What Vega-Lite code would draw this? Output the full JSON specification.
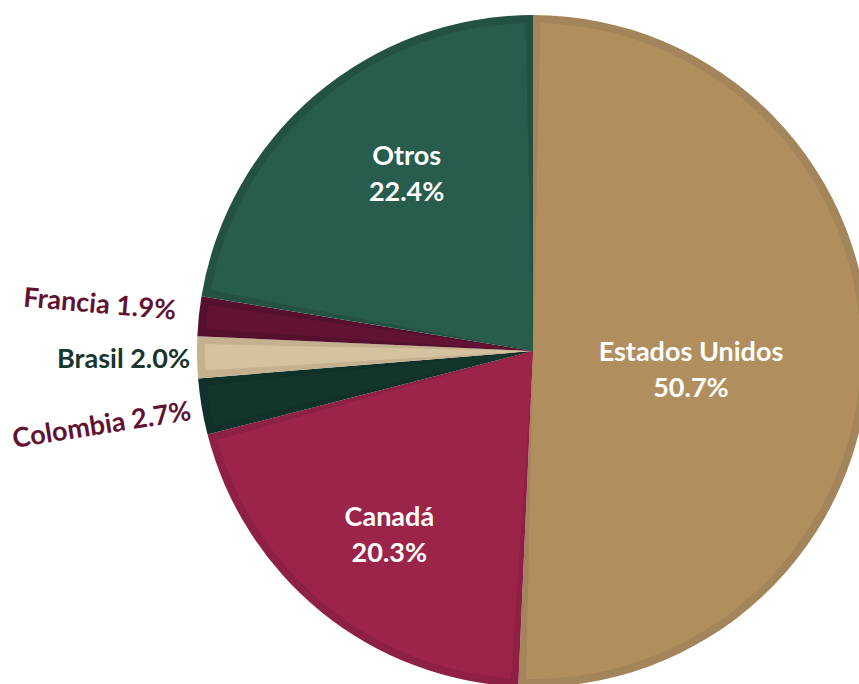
{
  "$schema": "https://vega.github.io/schema/vega-lite/v6.json",
  "width": 859,
  "height": 684,
  "autosize": {"type": "none"},
  "padding": 0,
  "background": "white",
  "config": {"view": {"stroke": null}},
  "data": {
    "values": [
      {"pais": "Estados Unidos", "pct": 50.7, "orden": 1},
      {"pais": "Canadá", "pct": 20.3, "orden": 2},
      {"pais": "Colombia", "pct": 2.7, "orden": 3},
      {"pais": "Brasil", "pct": 2.0, "orden": 4},
      {"pais": "Francia", "pct": 1.9, "orden": 5},
      {"pais": "Otros", "pct": 22.4, "orden": 6}
    ]
  },
  "transform": [
    {"calculate": "datum.pais + '\\n' + format(datum.pct, '.1f') + '%'", "as": "dentro"},
    {"calculate": "datum.pais + ' ' + format(datum.pct, '.1f') + '%'", "as": "fuera"}
  ],
  "encoding": {
    "theta": {"field": "pct", "type": "quantitative", "stack": true},
    "order": {"field": "orden", "type": "quantitative"}
  },
  "layer": [
    {
      "mark": {"type": "arc", "outerRadius": 336, "xOffset": 103.5, "yOffset": 9},
      "encoding": {
        "color": {
          "field": "pais", "type": "nominal", "legend": null,
          "scale": {
            "domain": ["Estados Unidos", "Canadá", "Colombia", "Brasil", "Francia", "Otros"],
            "range": ["#A4845A", "#8E2044", "#10302A", "#C5B18E", "#55102D", "#235245"]
          }
        }
      }
    },
    {
      "mark": {"type": "arc", "outerRadius": 328, "padAngle": 0.046, "xOffset": 103.5, "yOffset": 9},
      "encoding": {
        "color": {
          "field": "pais", "type": "nominal", "legend": null,
          "scale": {
            "domain": ["Estados Unidos", "Canadá", "Colombia", "Brasil", "Francia", "Otros"],
            "range": ["#B18E5E", "#9D2449", "#14352C", "#D5C3A0", "#621233", "#285C4D"]
          }
        }
      }
    },
    {
      "mark": {"type": "text", "radius": 158, "xOffset": 103.5, "yOffset": 9, "dy": -1, "font": "Lato", "fontWeight": "bold", "fontSize": 27, "lineBreak": "\n", "lineHeight": 36, "fill": "white", "align": "center", "baseline": "middle"},
      "encoding": {
        "detail": {"field": "pais"},
        "text": {"condition": {"test": "datum.pais === 'Estados Unidos'", "field": "dentro"}, "value": ""}
      }
    },
    {
      "mark": {"type": "text", "radius": 228, "xOffset": 103.5, "yOffset": 9, "dy": -10, "font": "Lato", "fontWeight": "bold", "fontSize": 27, "lineBreak": "\n", "lineHeight": 36, "fill": "white", "align": "center", "baseline": "middle"},
      "encoding": {
        "detail": {"field": "pais"},
        "text": {"condition": {"test": "datum.pais === 'Canadá'", "field": "dentro"}, "value": ""}
      }
    },
    {
      "mark": {"type": "text", "radius": 220, "xOffset": 103.5, "yOffset": 9, "dx": 16, "dy": -26, "font": "Lato", "fontWeight": "bold", "fontSize": 27, "lineBreak": "\n", "lineHeight": 36, "fill": "white", "align": "center", "baseline": "middle"},
      "encoding": {
        "detail": {"field": "pais"},
        "text": {"condition": {"test": "datum.pais === 'Otros'", "field": "dentro"}, "value": ""}
      }
    },
    {
      "mark": {"type": "text", "radius": 360, "xOffset": 104.5, "yOffset": 7, "angle": 5, "font": "Lato", "fontWeight": "bold", "fontSize": 27, "fill": "#611232", "align": "right", "baseline": "middle"},
      "encoding": {
        "detail": {"field": "pais"},
        "text": {"condition": {"test": "datum.pais === 'Francia'", "field": "fuera"}, "value": ""}
      }
    },
    {
      "mark": {"type": "text", "radius": 343, "xOffset": 103.5, "yOffset": 12, "font": "Lato", "fontWeight": "bold", "fontSize": 27, "fill": "#17352D", "align": "right", "baseline": "middle"},
      "encoding": {
        "detail": {"field": "pais"},
        "text": {"condition": {"test": "datum.pais === 'Brasil'", "field": "fuera"}, "value": ""}
      }
    },
    {
      "mark": {"type": "text", "radius": 349, "xOffset": 105.5, "yOffset": 12, "angle": 351, "font": "Lato", "fontWeight": "bold", "fontSize": 27, "fill": "#611232", "align": "right", "baseline": "middle"},
      "encoding": {
        "detail": {"field": "pais"},
        "text": {"condition": {"test": "datum.pais === 'Colombia'", "field": "fuera"}, "value": ""}
      }
    }
  ],
  "resolve": {"scale": {"color": "independent"}}
}
